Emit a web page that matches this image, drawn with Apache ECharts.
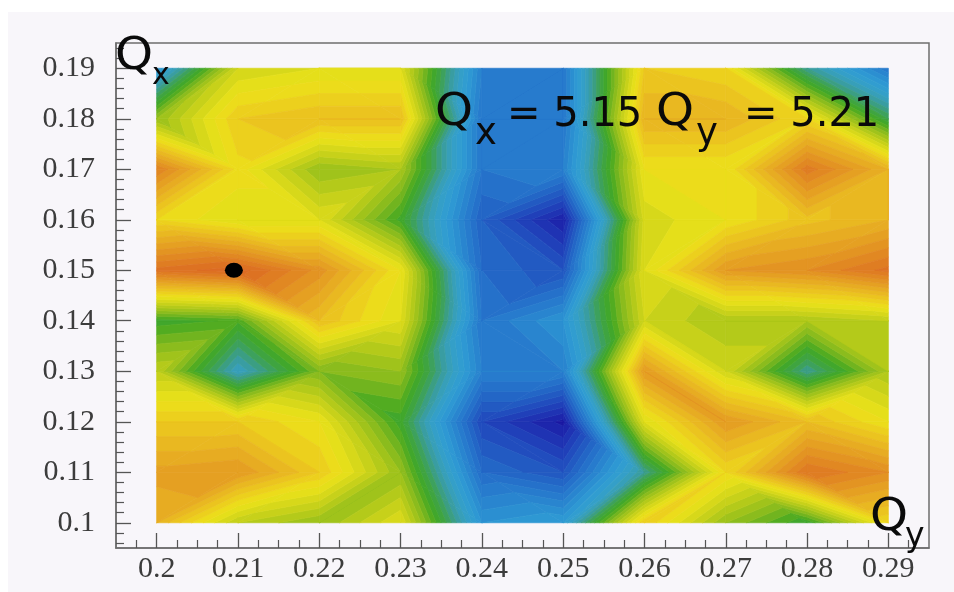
<!DOCTYPE html>
<html><head><meta charset="utf-8">
<style>html,body{margin:0;padding:0;background:#fff}#c{width:954px;height:592px}</style>
<script src="https://cdn.jsdelivr.net/npm/echarts@6/dist/echarts.min.js"></script>
</head><body><div id="c"></div>
<script>
// Qy axis (columns) and Qx axis (rows)
const qyValues = [0.20,0.21,0.22,0.23,0.24,0.25,0.26,0.27,0.28,0.29];
const qxValues = [0.10,0.11,0.12,0.13,0.14,0.15,0.16,0.17,0.18,0.19];
const row010 = [13.5,10.0, 9.0,11.0, 3.0, 3.5,12.5, 9.0, 7.0,12.0];
const row011 = [14.2,14.5,12.5, 9.0, 1.0, 0.0, 5.5,12.0,16.0,15.0];
const row012 = [12.5,12.5,11.5, 7.2,-0.5,-2.2,11.0,14.5,13.0,11.5];
const row013 = [10.0, 4.5, 8.5, 9.0, 2.0, 2.0,14.5,10.5, 5.5, 9.5];
const row014 = [ 7.2, 7.6,13.0,11.0, 1.5, 3.0,10.5, 9.5, 9.5,10.0];
const row015 = [16.2,16.8,14.8,11.5, 1.0, 0.0,11.0,14.5,15.0,16.2];
const row016 = [12.0,11.0,11.0, 7.3, 0.5,-2.0,10.7,11.5,12.8,13.5];
const row017 = [15.5,11.8, 9.0, 9.5, 1.5, 2.0,11.5,11.5,15.8,13.5];
const row018 = [ 9.0,12.5,13.0,13.0, 1.5, 1.5,13.5,13.5,12.0, 6.5];
const row019 = [ 3.0,10.5,11.0,11.0, 2.0, 1.5,12.5,12.0, 5.5, 1.5];
const rows = [row010,row011,row012,row013,row014,row015,row016,row017,row018,row019];
// Working point
const marker = [[0.2095,0.15]];
// Axis ticks
const xMajor = [0.20,0.21,0.22,0.23,0.24,0.25,0.26,0.27,0.28,0.29];
const yMajor = [0.10,0.11,0.12,0.13,0.14,0.15,0.16,0.17,0.18,0.19];
const xMinor = [];
for(let k=0;k<=40;k++){const v=+(0.1975+k*0.0025).toFixed(4); if(k%4!==1 && v<0.295) xMinor.push(v);}
const yMinor = [];
for(let k=0;k<=50;k++){const v=+(0.096+k*0.002).toFixed(3); if(k%5!==2 && v<0.195) yMinor.push(v);}
// Colour ramp: one colour per unit of level, lowest level first
const rampFloor = -3;
const rampColors = ['#1a12a0','#1e2cb0','#2046bc','#2260c4','#2676cc','#2a8ad0','#2f9cd4','#36a0c4','#3a9c96','#3ea24a',
 '#42a822','#80b81e','#aac61a','#d0d41a','#ece21a','#ecca1e','#e8b222','#e49a22','#e08222','#dc6c22'];
const levelStep = 0.5;

function hex(c){return [1,3,5].map(i=>parseInt(c.substr(i,2),16));}
function rampAt(v){
  const f=Math.max(0,Math.min(rampColors.length-1.001,v-rampFloor-0.5)),k=Math.floor(f),t=f-k;
  const a=hex(rampColors[k]),b=hex(rampColors[k+1]);
  return 'rgb('+a.map((x,n)=>Math.round(x+(b[n]-x)*t)).join(',')+')';
}
function clip(poly,lev,keepAbove){
  const out=[];
  for(let i=0;i<poly.length;i++){
    const a=poly[i],b=poly[(i+1)%poly.length];
    const ina=keepAbove?a[2]>=lev:a[2]<=lev, inb=keepAbove?b[2]>=lev:b[2]<=lev;
    if(ina) out.push(a);
    if(ina!==inb){const t=(lev-a[2])/(b[2]-a[2]);out.push([a[0]+(b[0]-a[0])*t,a[1]+(b[1]-a[1])*t,lev]);}
  }
  return out;
}
const cells=[];
for(let j=0;j<qxValues.length-1;j++)for(let i=0;i<qyValues.length-1;i++)cells.push([qyValues[i],qxValues[j],i,j]);

function renderCell(params,api){
  const i=api.value(2),j=api.value(3);
  const P=(a,b)=>[qyValues[a],qxValues[b],rows[b][a]];
  const A=P(i,j),B=P(i+1,j),C=P(i+1,j+1),D=P(i,j+1);
  const tris=Math.abs(A[2]-C[2])<Math.abs(B[2]-D[2])?[[A,B,C],[A,C,D]]:[[A,B,D],[B,C,D]];
  const children=[];
  tris.forEach(t=>{
    for(let lo=rampFloor;lo<rampFloor+rampColors.length;lo+=levelStep){
      let p=clip(t,lo,true); if(p.length<3)continue;
      p=clip(p,lo+levelStep,false); if(p.length<3)continue;
      const col=rampAt(lo+levelStep/2);
      children.push({type:'polygon',shape:{points:p.map(q=>api.coord([q[0],q[1]]))},
        style:{fill:col,stroke:col,lineWidth:0.7}});
    }
  });
  return {type:'group',children};
}
const labelFont={fontFamily:'Liberation Serif',fontSize:30,color:'#3c3c3c'};
const frameLine={lineStyle:{color:'#6e6e6e',width:1.5}};
function txt(text,x,y,size,sx){return {type:'text',z:100,x,y,scaleX:sx||1,style:{text,fill:'#0a0a0a',font:size+'px "DejaVu Sans"',verticalAlign:'middle'}};}
const chart=echarts.init(document.getElementById('c'),null,{renderer:'canvas'});
chart.setOption({
  animation:false,backgroundColor:'#f8f6fa',
  graphic:[
    {type:'rect',z:-10,shape:{x:0,y:0,width:8,height:592},style:{fill:'#ffffff'}},
    {type:'rect',z:-10,shape:{x:0,y:0,width:954,height:12},style:{fill:'#ffffff'}},
    txt('Q',115,58,44,1.1),txt('x',152,76,30),
    txt('Q',435,114,44,1.1),txt('x',475,134,37),
    txt('= 5.15',507,116,40),
    txt('Q',656,114,44,1.1),txt('y',696,134,37),
    txt('= 5.21',744,116,40),
    txt('Q',870,519,44,1.1),txt('y',905,537,33)
  ],
  grid:{left:116,top:43,width:813,height:505,show:true,borderColor:'#6e6e6e',borderWidth:1.5,backgroundColor:'transparent'},
  xAxis:[
   {type:'value',min:0.195,max:0.295,position:'bottom',splitLine:{show:false},axisLine:{show:true,...frameLine},
    axisTick:{show:true,inside:true,length:15,customValues:xMajor,lineStyle:{color:'#555',width:1.3}},
    axisLabel:{show:true,customValues:xMajor,margin:6,formatter:v=>String(+v.toFixed(2)),...labelFont}},
   {type:'value',min:0.195,max:0.295,position:'bottom',splitLine:{show:false},axisLine:{show:false},
    axisTick:{show:true,inside:true,length:8,customValues:xMinor,lineStyle:{color:'#555',width:1.2}},axisLabel:{show:false}}
  ],
  yAxis:[
   {type:'value',min:0.095,max:0.195,position:'left',splitLine:{show:false},axisLine:{show:true,...frameLine},
    axisTick:{show:true,inside:true,length:15,customValues:yMajor,lineStyle:{color:'#555',width:1.3}},
    axisLabel:{show:true,customValues:yMajor,margin:21,formatter:v=>String(+v.toFixed(2)),...labelFont}},
   {type:'value',min:0.095,max:0.195,position:'left',splitLine:{show:false},axisLine:{show:false},
    axisTick:{show:true,inside:true,length:8,customValues:yMinor,lineStyle:{color:'#555',width:1.2}},axisLabel:{show:false}}
  ],
  series:[
    {type:'custom',coordinateSystem:'cartesian2d',renderItem:renderCell,data:cells,encode:{x:0,y:1},silent:true,z:2},
    {type:'scatter',data:marker,symbol:'circle',symbolSize:[18,15],itemStyle:{color:'#000',opacity:1},silent:true,z:5}
  ]
});
</script></body></html>
